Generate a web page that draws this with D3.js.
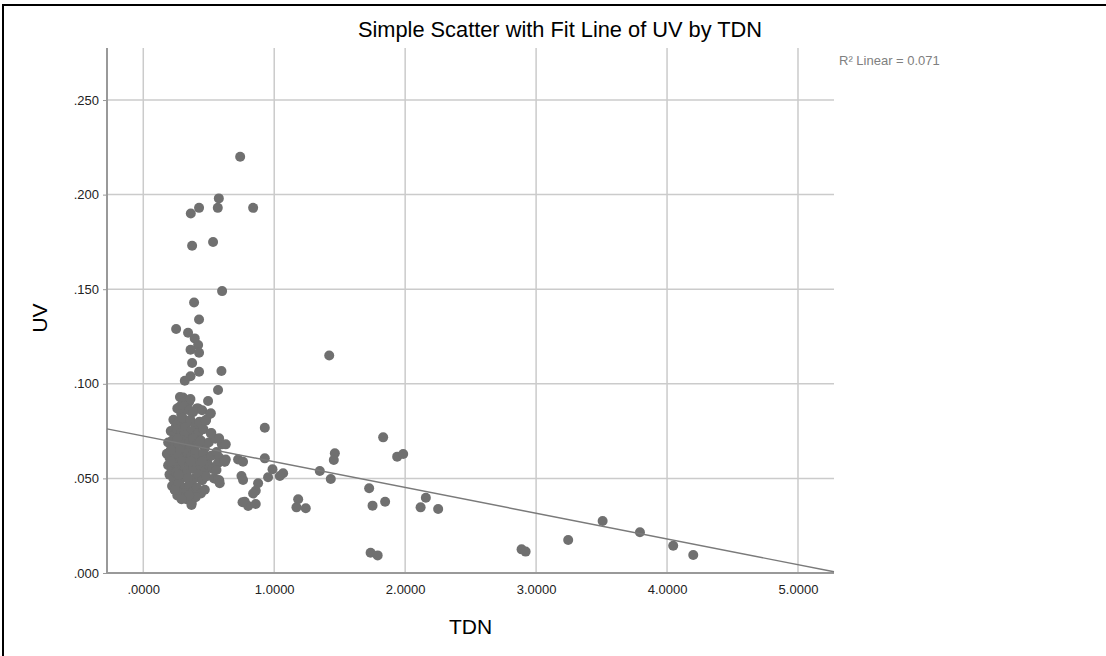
<!DOCTYPE html>
<html>
<head>
<meta charset="utf-8">
<script src="https://cdn.jsdelivr.net/npm/d3@7"></script>
<style>
  body { margin: 0; background: #fff; }
  svg { display: block; font-family: "Liberation Sans", Arial, sans-serif; }
</style>
</head>
<body>
<svg width="1106" height="656"></svg>
<script>
// values, [TDN, UV]
var upperPoints = [
  [0.74, 0.220], [0.577, 0.198], [0.426, 0.193], [0.363, 0.190], [0.569, 0.193], [0.839, 0.193],
  [0.373, 0.173], [0.533, 0.175], [0.602, 0.149], [0.388, 0.143], [0.426, 0.134], [0.251, 0.129],
  [0.342, 0.127], [0.393, 0.124], [0.419, 0.1205], [0.361, 0.118], [0.426, 0.1164], [0.373, 0.111],
  [0.426, 0.1064], [0.361, 0.104], [0.317, 0.1016], [0.597, 0.1068], [0.571, 0.0967], [0.304, 0.0927],
  [0.350, 0.0905], [0.495, 0.0909], [0.279, 0.0879], [0.419, 0.087]
];

var clusterPoints = [
  [0.28, 0.093], [0.33, 0.091], [0.30, 0.090], [0.36, 0.092], [0.41, 0.087],
  [0.26, 0.087], [0.31, 0.088], [0.35, 0.086], [0.38, 0.085], [0.29, 0.084], [0.45, 0.086], [0.51, 0.084],
  [0.23, 0.081], [0.27, 0.080], [0.30, 0.082], [0.33, 0.079], [0.36, 0.081], [0.40, 0.078], [0.43, 0.080],
  [0.48, 0.081], [0.25, 0.078],
  [0.21, 0.075], [0.24, 0.073], [0.26, 0.076], [0.29, 0.074], [0.32, 0.077], [0.34, 0.073], [0.37, 0.075],
  [0.39, 0.072], [0.42, 0.074], [0.46, 0.076], [0.52, 0.074], [0.28, 0.072], [0.31, 0.073],
  [0.19, 0.069], [0.22, 0.070], [0.24, 0.067], [0.27, 0.068], [0.30, 0.070], [0.33, 0.067], [0.35, 0.069],
  [0.38, 0.071], [0.41, 0.068], [0.44, 0.070], [0.47, 0.066], [0.50, 0.069], [0.55, 0.071], [0.60, 0.068],
  [0.26, 0.071], [0.36, 0.066],
  [0.18, 0.063], [0.20, 0.061], [0.23, 0.064], [0.25, 0.062], [0.28, 0.065], [0.31, 0.061], [0.34, 0.063],
  [0.37, 0.062], [0.40, 0.064], [0.43, 0.061], [0.46, 0.063], [0.49, 0.060], [0.52, 0.062], [0.56, 0.064],
  [0.58, 0.061], [0.63, 0.060], [0.29, 0.060], [0.39, 0.060], [0.21, 0.065],
  [0.19, 0.057], [0.22, 0.055], [0.24, 0.058], [0.27, 0.056], [0.30, 0.059], [0.32, 0.054], [0.35, 0.057],
  [0.38, 0.055], [0.41, 0.058], [0.44, 0.056], [0.47, 0.054], [0.50, 0.057], [0.53, 0.055], [0.57, 0.058],
  [0.62, 0.059], [0.26, 0.054], [0.36, 0.059], [0.45, 0.059], [0.21, 0.059],
  [0.20, 0.052], [0.23, 0.050], [0.25, 0.053], [0.28, 0.049], [0.30, 0.051], [0.33, 0.052], [0.36, 0.048],
  [0.39, 0.050], [0.42, 0.052], [0.45, 0.049], [0.48, 0.051], [0.54, 0.050], [0.58, 0.049], [0.27, 0.052],
  [0.34, 0.050],
  [0.22, 0.046], [0.24, 0.044], [0.27, 0.047], [0.29, 0.043], [0.32, 0.045], [0.35, 0.046], [0.38, 0.043],
  [0.41, 0.045], [0.44, 0.042], [0.47, 0.044], [0.31, 0.042],
  [0.29, 0.040], [0.33, 0.039], [0.37, 0.037], [0.40, 0.040], [0.26, 0.041], [0.35, 0.041],
  [0.368, 0.036], [0.292, 0.039], [0.241, 0.0439]
];

var midPoints = [
  [0.516, 0.0844], [0.477, 0.0805], [0.928, 0.0768], [0.516, 0.0738], [0.579, 0.0712], [0.630, 0.068],
  [0.432, 0.0694], [0.623, 0.0588], [0.724, 0.060], [0.762, 0.0588], [0.928, 0.0606], [0.987, 0.0548],
  [1.068, 0.0527], [1.043, 0.0513], [0.953, 0.0506], [0.750, 0.0513], [0.762, 0.0492], [0.571, 0.0492],
  [0.877, 0.0474], [0.559, 0.0544], [0.584, 0.0474], [0.859, 0.0435], [0.839, 0.042], [0.775, 0.0377],
  [0.801, 0.0354], [0.859, 0.0365], [0.758, 0.0374], [1.183, 0.039], [1.170, 0.0347], [1.241, 0.0342]
];

var tailPoints = [
  [1.42, 0.115], [1.832, 0.0717], [1.939, 0.0615], [1.985, 0.0629], [1.463, 0.0633], [1.455, 0.0597],
  [1.348, 0.0539], [1.432, 0.0497], [1.725, 0.0448], [1.847, 0.0377], [1.751, 0.0356], [2.158, 0.0398],
  [2.118, 0.0347], [2.252, 0.0338], [1.736, 0.0107], [1.79, 0.0093], [2.889, 0.0125], [2.920, 0.0113],
  [3.245, 0.0174], [3.508, 0.0275], [3.793, 0.0215], [4.047, 0.0144], [4.200, 0.0095]
];

var xTicks = [0, 1, 2, 3, 4, 5];
var yTicks = [0, 0.05, 0.10, 0.15, 0.20, 0.25];

// fit line
var fitIntercept = 0.0724;
var fitSlope = -0.0136;
var rSquared = "0.071";

var titleText = "Simple Scatter with Fit Line of UV by TDN";

var svg = d3.select("svg");

var plotLeft = 107, plotRight = 834, plotTop = 48, plotBottom = 573;

var x = d3.scaleLinear().domain([-0.277, 5.275]).range([plotLeft, plotRight]);
var y = d3.scaleLinear().domain([0, 0.2775]).range([plotBottom, plotTop]);

// frame
svg.append("rect")
  .attr("x", 3).attr("y", 5)
  .attr("width", 1200).attr("height", 800)
  .attr("fill", "none")
  .attr("stroke", "#000")
  .attr("stroke-width", 2);

// grid
svg.append("g")
  .selectAll("line")
  .data(xTicks)
  .enter().append("line")
  .attr("x1", function(d) { return x(d); })
  .attr("x2", function(d) { return x(d); })
  .attr("y1", plotTop).attr("y2", plotBottom)
  .attr("stroke", "#cbcbcb")
  .attr("stroke-width", 1.5);

svg.append("g")
  .selectAll("line")
  .data(yTicks.filter(function(d) { return d > 0; }))
  .enter().append("line")
  .attr("y1", function(d) { return y(d); })
  .attr("y2", function(d) { return y(d); })
  .attr("x1", plotLeft).attr("x2", plotRight)
  .attr("stroke", "#cbcbcb")
  .attr("stroke-width", 1.5);

// axes
var xAxis = d3.axisBottom(x)
  .tickValues(xTicks)
  .tickSize(0)
  .tickPadding(12)
  .tickFormat(function(d) { return d === 0 ? ".0000" : d3.format(".4f")(d); });

var yAxis = d3.axisLeft(y)
  .tickValues(yTicks)
  .tickSize(4)
  .tickPadding(4)
  .tickFormat(function(d) { return d3.format(".3f")(d).replace(/^0/, ""); });

var gx = svg.append("g")
  .attr("transform", "translate(0," + plotBottom + ")")
  .call(xAxis);
gx.select(".domain").remove();

var gy = svg.append("g")
  .attr("transform", "translate(" + plotLeft + ",0)")
  .call(yAxis);
gy.select(".domain").remove();

svg.selectAll(".tick text")
  .attr("fill", "#222")
  .style("font-size", "13px")
  .style("font-family", "'Liberation Sans', Arial, sans-serif");
gy.selectAll(".tick line").attr("stroke", "#999");

svg.append("path")
  .attr("d", "M" + plotLeft + "," + plotTop + "V" + plotBottom + "H" + plotRight)
  .attr("fill", "none")
  .attr("stroke", "#999")
  .attr("stroke-width", 2);

// points
var allPoints = upperPoints.concat(clusterPoints, midPoints, tailPoints);

svg.append("g")
  .selectAll("circle")
  .data(allPoints)
  .enter().append("circle")
  .attr("cx", function(d) { return x(d[0]); })
  .attr("cy", function(d) { return y(d[1]); })
  .attr("r", 5)
  .attr("fill", "#707070");

// fit line
var xd = x.domain();
svg.append("line")
  .attr("x1", x(xd[0]))
  .attr("y1", y(fitIntercept + fitSlope * xd[0]))
  .attr("x2", x(xd[1]))
  .attr("y2", y(fitIntercept + fitSlope * xd[1]))
  .attr("stroke", "#7a7a7a")
  .attr("stroke-width", 1.4);

// texts
svg.append("text")
  .attr("x", 560).attr("y", 37)
  .attr("text-anchor", "middle")
  .style("font-size", "21.8px")
  .attr("fill", "#000")
  .text(titleText);

svg.append("text")
  .attr("x", (plotLeft + plotRight) / 2).attr("y", 634)
  .attr("text-anchor", "middle")
  .style("font-size", "21px")
  .attr("fill", "#000")
  .text("TDN");

svg.append("text")
  .attr("transform", "translate(47,318) rotate(-90)")
  .attr("text-anchor", "middle")
  .style("font-size", "21px")
  .attr("fill", "#000")
  .text("UV");

svg.append("text")
  .attr("x", 839).attr("y", 65)
  .style("font-size", "13px")
  .attr("fill", "#808080")
  .text("R\u00b2 Linear = " + rSquared);
</script>
</body>
</html>
